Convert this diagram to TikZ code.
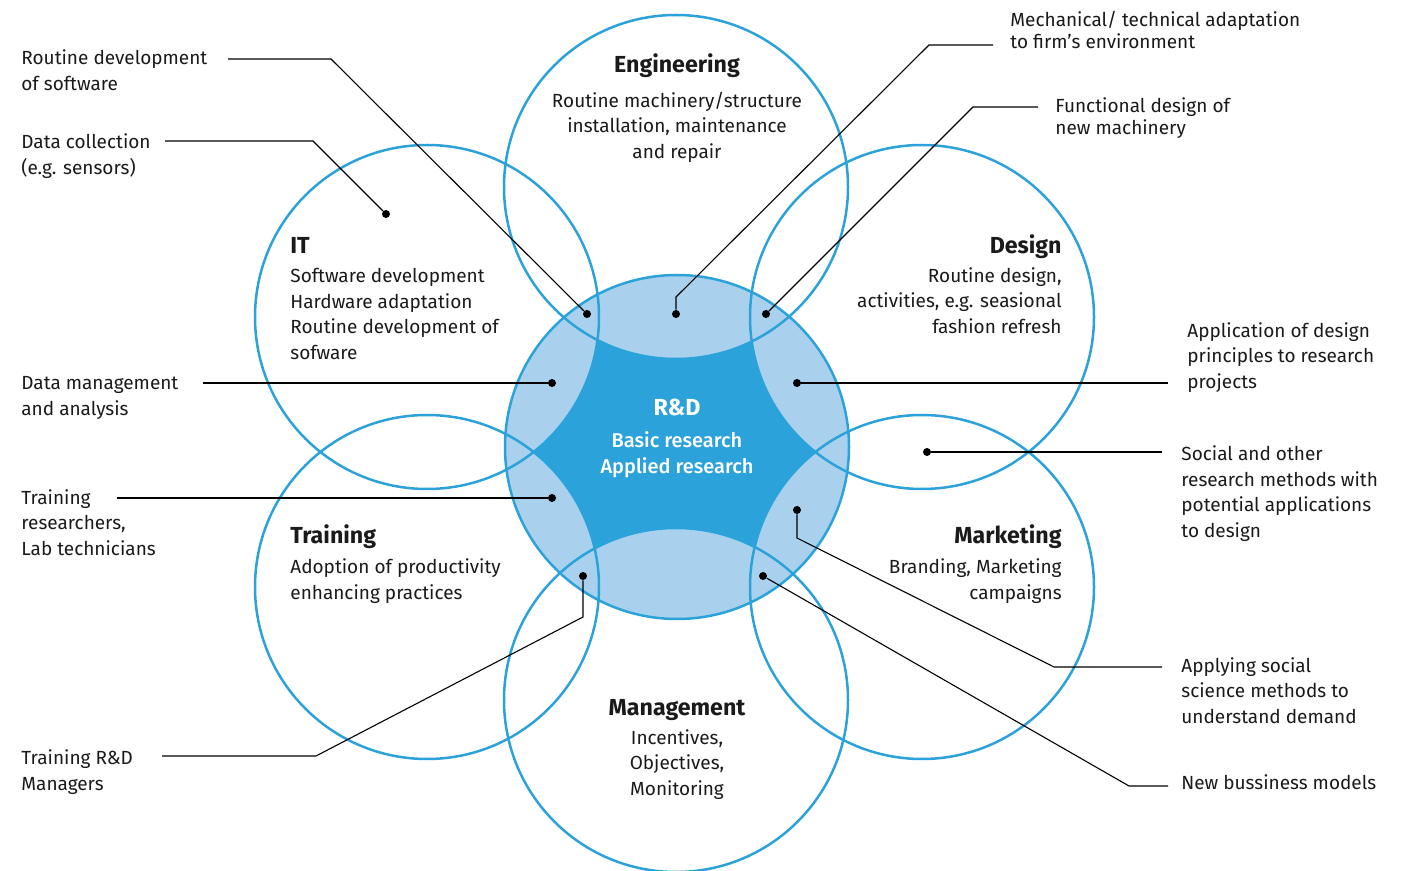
\documentclass[tikz,border=0pt]{standalone}
\usepackage{fontspec}
\setmainfont{Fira Sans}
\newfontfamily\medfont{Fira Sans Medium}
\usepackage{xcolor}
\usepackage{tikz}
\definecolor{rdblue}{HTML}{2CA2DA}
\definecolor{rdlight}{HTML}{A9D1EE}
\definecolor{ink}{HTML}{1A1A1A}

\tikzset{
  ring/.style={circle, draw=rdblue, line width=1.25pt, minimum size=172pt, inner sep=0pt},
  title/.style={font=\fontsize{11.6}{14}\selectfont\bfseries, text=ink, inner sep=0pt},
  body/.style={font=\fontsize{9.5}{12.85}\selectfont, text=ink, inner sep=0pt},
  note/.style={body, align=left, anchor=base west},
  dot/.style={circle, fill=black, inner sep=0pt, minimum size=4pt},
  lead/.style={draw=black, line width=0.55pt},
}

\begin{document}
\begin{tikzpicture}[x=0.5pt, y=-0.5pt]
\useasboundingbox (0,0) rectangle (1404,871);
% Relleno R&D
\fill[rdblue] (677,447) circle[radius=86pt];
\begin{scope}
\clip (677,447) circle[radius=86pt];
\foreach \cx/\cy in {676/187, 427/317, 922/317, 427/587, 922/587, 676/700}
  \fill[rdlight] (\cx,\cy) circle[radius=86pt];
\end{scope}
% Circulos
\node[ring] (rd) at (677,447) {};
\node[ring] (eng) at (676,187) {};
\node[ring] (it) at (427,317) {};
\node[ring] (des) at (922,317) {};
\node[ring] (tr) at (427,587) {};
\node[ring] (mk) at (922,587) {};
\node[ring] (mg) at (676,700) {};
\begin{scope}[yshift=-1.3pt]
% Titulos
\node[title, anchor=base] (engT) at (677,70) {Engineering};
\node[title, anchor=base west] (itT) at (290,251) {IT};
\node[title, anchor=base east] (desT) at (1062,251) {Design};
\node[title, anchor=base west] (trT) at (290,541) {Training};
\node[title, anchor=base east] (mkT) at (1062,541) {Marketing};
\node[title, anchor=base] (mgT) at (677,713) {Management};
\node[title, anchor=base, text=white] (rdT) at (677,413) {R\&D};
% Textos (base = ultima linea)
\node[body, align=center, anchor=base] (engB) at (677,156) {Routine machinery/structure\\installation, maintenance\\and repair};
\node[body, align=left, anchor=base west] (itB) at (290,357) {Software development\\Hardware adaptation\\Routine development of\\sofware};
\node[body, align=right, anchor=base east] (desB) at (1062,331) {Routine design,\\activities, e.g. seasional\\fashion refresh};
\node[body, align=left, anchor=base west] (trB) at (290,597) {Adoption of productivity\\enhancing practices};
\node[body, align=right, anchor=base east] (mkB) at (1062,597) {Branding, Marketing\\campaigns};
\node[body, align=center, anchor=base] (mgB) at (677,793) {Incentives,\\Objectives,\\Monitoring};
\node[body, align=center, anchor=base, text=white, font=\fontsize{10}{13}\selectfont\medfont] (rdB) at (677,471) {Basic research\\Applied research};
% Notas
\node[note] (nSoft) at (21,88) {Routine development\\of software};
\node[note] (nSens) at (21,172) {Data collection\\(e.g. sensors)};
\node[note] (nData) at (21,413) {Data management\\and analysis};
\node[note] (nLab) at (21,553) {Training\\researchers,\\Lab technicians};
\node[note] (nMgr) at (21,788) {Training R\&D\\Managers};
\node[note, font=\fontsize{9.5}{11}\selectfont] (nMech) at (1010,46) {Mechanical/ technical adaptation\\to firm's environment};
\node[note, font=\fontsize{9.5}{11}\selectfont] (nFunc) at (1055,132) {Functional design of\\new machinery};
\node[note] (nAppl) at (1187,386) {Application of design\\principles to research\\projects};
\node[note] (nSocial) at (1181,535) {Social and other\\research methods with\\potential applications\\to design};
\node[note] (nDemand) at (1181,721) {Applying social\\science methods to\\understand demand};
\node[note] (nBiz) at (1181,787) {New bussiness models};
\end{scope}
% Puntos
\node[dot] (dSoft) at (587,314) {};
\node[dot] (dSens) at (386,214) {};
\node[dot] (dMech) at (676,314) {};
\node[dot] (dFunc) at (766,314) {};
\node[dot] (dData) at (552,383) {};
\node[dot] (dAppl) at (797,383) {};
\node[dot] (dSocial) at (927,452) {};
\node[dot] (dLab) at (552,498) {};
\node[dot] (dDemand) at (797,510) {};
\node[dot] (dBiz) at (763,576) {};
\node[dot] (dMgr) at (583,576) {};
% Lineas
\coordinate (cSoft) at (228,59);
\coordinate (cSens) at (165,141);
\coordinate (cMech) at (993,45);
\coordinate (cFunc) at (1038,107);
\coordinate (cData) at (203,383);
\coordinate (cAppl) at (1168,383);
\coordinate (cSocial) at (1162,452);
\coordinate (cLab) at (117,498);
\coordinate (cDemand) at (1162,667);
\coordinate (cBiz) at (1168,786);
\coordinate (cMgr) at (162,756);
\draw[lead] (cSoft) -- (331,59) -- (dSoft);
\draw[lead] (cSens) -- (313,141) -- (dSens);
\draw[lead] (cMech) -- (929,45) -- (676,297) -- (dMech);
\draw[lead] (cFunc) -- (973,107) -- (dFunc);
\draw[lead] (cData) -- (dData);
\draw[lead] (dAppl) -- (cAppl);
\draw[lead] (dSocial) -- (cSocial);
\draw[lead] (cLab) -- (dLab);
\draw[lead] (dDemand) -- (797,538) -- (1054,667) -- (cDemand);
\draw[lead] (dBiz) -- (1129,786) -- (cBiz);
\draw[lead] (cMgr) -- (316,756) -- (583,617) -- (dMgr);
\end{tikzpicture}
\end{document}
